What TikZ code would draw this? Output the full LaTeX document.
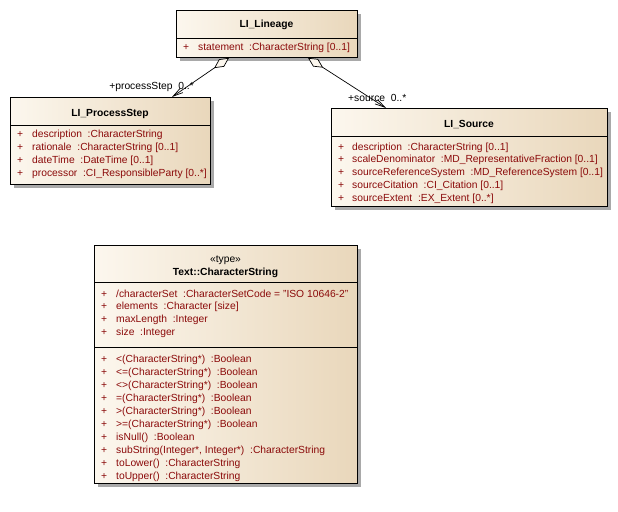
\documentclass[tikz,border=0pt]{standalone}
\usepackage{fontspec}
\setmainfont{Liberation Sans}
\usetikzlibrary{arrows.meta,shadows}
\definecolor{clsL}{HTML}{FCF7EE}
\definecolor{clsR}{HTML}{E9D7BB}
\definecolor{attr}{HTML}{8B0A0A}
\definecolor{shade}{HTML}{A9A9A9}

\begin{document}
\begin{tikzpicture}[x=1pt,y=-1pt,
  classbox/.style={draw=black, line width=0.9pt, left color=clsL, right color=clsR,
    inner sep=0pt, anchor=north west,
    general shadow={fill=shade, shadow xshift=4pt, shadow yshift=-4pt}},
  txt/.style={font=\fontsize{10.3}{12}\selectfont, inner sep=0pt},
  title/.style={txt, font=\fontsize{10.3}{12}\selectfont\bfseries, anchor=base},
  stereo/.style={txt, anchor=base},
  plus/.style={txt, text=attr, anchor=base west},
  member/.style={txt, text=attr, anchor=base west},
  rolelbl/.style={txt},
  divider/.style={line width=0.9pt},
  agg/.style={line width=0.7pt,
    {Diamond[open, fill=clsL, length=18pt, width=9pt]}-{Straight Barb[length=10pt, width=5pt]}}
]
\useasboundingbox[fill=white] (0,0) rectangle (618,511);

% ---------- LI_Lineage ----------
\node[classbox, minimum width=181pt, minimum height=47pt] (lineage) at (176,10) {};
\node[title] (lineage-t) at (266.5,28) {LI\_Lineage};
\draw[divider] ([yshift=-28pt]lineage.north west) -- ([yshift=-28pt]lineage.north east);
\node[plus] (lineage-p0) at (183,51) {+};
\node[member] (lineage-m0) at (198,51) {statement~~:CharacterString [0..1]};

% ---------- LI_ProcessStep ----------
\node[classbox, minimum width=200pt, minimum height=87pt] (procstep) at (10,97) {};
\node[title] (procstep-t) at (110,116) {LI\_ProcessStep};
\draw[divider] ([yshift=-28pt]procstep.north west) -- ([yshift=-28pt]procstep.north east);
\foreach \t [count=\i from 0] in {
  description~~:CharacterString,
  rationale~~:CharacterString [0..1],
  dateTime~~:DateTime [0..1],
  processor~~:CI\_ResponsibleParty [0..*]} {
  \node[plus] (procstep-p\i) at (17,137+13*\i) {+};
  \node[member] (procstep-m\i) at (32,137+13*\i) {\t};
}

% ---------- LI_Source ----------
\node[classbox, minimum width=276pt, minimum height=98pt] (source) at (331,108) {};
\node[title] (source-t) at (469,127) {LI\_Source};
\draw[divider] ([yshift=-28pt]source.north west) -- ([yshift=-28pt]source.north east);
\foreach \t [count=\i from 0] in {
  description~~:CharacterString [0..1],
  scaleDenominator~~:MD\_RepresentativeFraction [0..1],
  sourceReferenceSystem~~:MD\_ReferenceSystem [0..1],
  sourceCitation~~:CI\_Citation [0..1],
  sourceExtent~~:EX\_Extent [0..*]} {
  \node[plus] (source-p\i) at (338,150+12.75*\i) {+};
  \node[member] (source-m\i) at (352,150+12.75*\i) {\t};
}

% ---------- Text::CharacterString ----------
\node[classbox, minimum width=263pt, minimum height=238pt] (charstr) at (94,245) {};
\node[stereo] (charstr-s) at (225.5,262) {«type»};
\node[title] (charstr-t) at (225.5,275) {Text::CharacterString};
\draw[divider] ([yshift=-37pt]charstr.north west) -- ([yshift=-37pt]charstr.north east);
\foreach \t [count=\i from 0] in {
  /characterSet~~:CharacterSetCode = "ISO 10646-2",
  elements~~:Character [size],
  maxLength~~:Integer,
  size~~:Integer} {
  \node[plus] (charstr-p\i) at (101,297+12.8*\i) {+};
  \node[member] (charstr-m\i) at (116,297+12.8*\i) {\t};
}
\draw[divider] ([yshift=-102pt]charstr.north west) -- ([yshift=-102pt]charstr.north east);
\foreach \t [count=\i from 0] in {
  <(CharacterString*)~~:Boolean,
  <=(CharacterString*)~~:Boolean,
  <>(CharacterString*)~~:Boolean,
  =(CharacterString*)~~:Boolean,
  >(CharacterString*)~~:Boolean,
  >=(CharacterString*)~~:Boolean,
  isNull()~~:Boolean,
  {subString(Integer*, Integer*)~~:CharacterString},
  toLower()~~:CharacterString,
  toUpper()~~:CharacterString} {
  \node[plus] (charstr-q\i) at (101,362+13*\i) {+};
  \node[member] (charstr-o\i) at (116,362+13*\i) {\t};
}

% ---------- aggregations ----------
\draw[agg] ([xshift=53pt]lineage.south west) -- ([xshift=162pt]procstep.north west);
\draw[agg] ([xshift=132pt]lineage.south west) -- ([xshift=55pt]source.north west);
\node[rolelbl, anchor=base east] (role-ps) at (194,89) {+processStep~~0..*};
\node[rolelbl, anchor=base west] (role-src) at (348,101) {+source~~0..*};

\end{tikzpicture}
\end{document}
